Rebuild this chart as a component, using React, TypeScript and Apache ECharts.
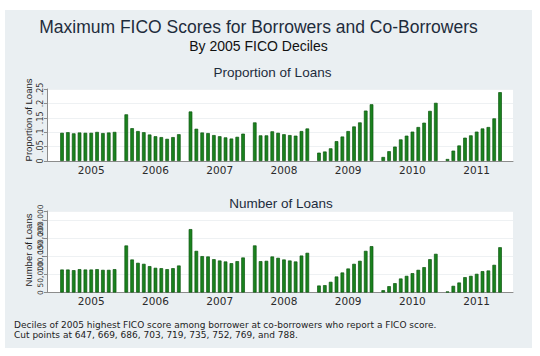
import React, { useEffect, useRef } from "react";
import * as echarts from "echarts";

const years = ["2005", "2006", "2007", "2008", "2009", "2010", "2011"];
const yTicksProp = [0, 0.05, 0.1, 0.15, 0.2, 0.25];
const yTicksCount = [0, 50000, 100000, 150000, 200000];

// Proportion of loans, deciles 1..10 per year
const prop2005 = [0.098, 0.1, 0.096, 0.099, 0.098, 0.098, 0.101, 0.097, 0.099, 0.101];
const prop2006 = [0.162, 0.114, 0.104, 0.1, 0.092, 0.086, 0.083, 0.077, 0.083, 0.093];
const prop2007 = [0.172, 0.112, 0.099, 0.097, 0.09, 0.086, 0.082, 0.078, 0.084, 0.095];
const prop2008 = [0.134, 0.089, 0.089, 0.103, 0.098, 0.093, 0.09, 0.088, 0.104, 0.113];
const prop2009 = [0.029, 0.033, 0.044, 0.069, 0.085, 0.104, 0.12, 0.134, 0.175, 0.197];
const prop2010 = [0.014, 0.034, 0.05, 0.075, 0.088, 0.102, 0.118, 0.133, 0.174, 0.202];
const prop2011 = [0.007, 0.036, 0.054, 0.081, 0.089, 0.102, 0.113, 0.118, 0.148, 0.239];

// Number of loans, deciles 1..10 per year
const count2005 = [63500, 63500, 61700, 64500, 63500, 63500, 64500, 62600, 62600, 64500];
const count2006 = [129900, 91200, 82000, 79200, 72800, 68200, 67200, 64500, 67200, 74600];
const count2007 = [175000, 115000, 100400, 99500, 92000, 88400, 85700, 81000, 86600, 96700];
const count2008 = [130000, 86600, 87500, 99500, 95800, 91200, 88400, 85700, 102000, 109600];
const count2009 = [19300, 20300, 29500, 44200, 55300, 66300, 79200, 87500, 115000, 128000];
const count2010 = [6400, 17500, 25800, 38700, 46000, 53400, 62600, 70000, 92000, 106800];
const count2011 = [2800, 18400, 27600, 42400, 46000, 51600, 59000, 60800, 76400, 125000];

const propGroups = [prop2005, prop2006, prop2007, prop2008, prop2009, prop2010, prop2011];
const countGroups = [count2005, count2006, count2007, count2008, count2009, count2010, count2011];

const footnote1 =
  "Deciles of 2005 highest FICO score among borrower at co-borrowers who report a FICO score.";
const footnote2 = "Cut points at 647, 669, 686, 703, 719, 735, 752, 769, and 788.";

// each year: 10 deciles followed by one empty slot
function slotted(groups: number[][]) {
  const out: (number | null)[] = [];
  groups.forEach((g) => {
    g.forEach((v) => out.push(v));
    out.push(null);
  });
  return out;
}
function slotNames(groups: number[][]) {
  const out: string[] = [];
  groups.forEach((g, gi) => {
    g.forEach((_, di) => out.push(years[gi] + "-" + (di + 1)));
    out.push(years[gi] + "-gap");
  });
  return out;
}

const SANS = "'Liberation Sans', Arial, Helvetica, sans-serif";
const WIDE = "'DejaVu Sans', sans-serif";
const AXIS = "#8c8c8c";
const GREEN = "#1a821e";
const GREEN_EDGE = "#0b560e";

export default function App() {
  const ref = useRef<HTMLDivElement>(null);
  useEffect(() => {
    if (!ref.current) return;
    const chart = echarts.init(ref.current, null, { renderer: "svg" });

    const propMax = yTicksProp[yTicksProp.length - 1];
    const countMax = 225000;
    const names = slotNames(propGroups);

    const bgX = (grid: number) => ({
      type: "value" as const,
      gridIndex: grid,
      min: 0,
      max: 1,
      axisLine: { show: true, lineStyle: { color: AXIS, width: 1 } },
      axisTick: { show: false },
      axisLabel: { show: false },
      splitLine: { show: false },
    });
    const slotX = (grid: number) => ({
      type: "category" as const,
      gridIndex: grid,
      data: names,
      show: false,
    });
    const yearX = (grid: number) => ({
      type: "category" as const,
      gridIndex: grid,
      data: years,
      position: "bottom" as const,
      axisLine: { show: false },
      axisTick: { show: false },
      axisLabel: {
        show: true,
        fontFamily: WIDE,
        fontSize: 10.5,
        color: "#2a2a2a",
        margin: 3,
        interval: 0,
      },
      splitLine: { show: false },
    });

    chart.setOption({
      animation: false,
      backgroundColor: "#ffffff",
      graphic: [
        {
          type: "rect",
          shape: { x: 5, y: 10, width: 527, height: 338 },
          style: { fill: "#eaeff2" },
          z: -10,
        },
        {
          type: "text",
          x: 258.5,
          y: 27,
          style: {
            text: "Maximum FICO Scores for Borrowers and Co-Borrowers",
            font: `17.5px ${SANS}`,
            fill: "#1e2c3c",
            textAlign: "center",
            textVerticalAlign: "middle",
          },
        },
        {
          type: "text",
          x: 258.5,
          y: 46,
          style: {
            text: "By 2005 FICO Deciles",
            font: `14px ${SANS}`,
            fill: "#111111",
            textAlign: "center",
            textVerticalAlign: "middle",
          },
        },
        {
          type: "text",
          x: 272.5,
          y: 72,
          style: {
            text: "Proportion of Loans",
            font: `13.5px ${SANS}`,
            fill: "#1e2c3c",
            textAlign: "center",
            textVerticalAlign: "middle",
          },
        },
        {
          type: "text",
          x: 281,
          y: 203,
          style: {
            text: "Number of Loans",
            font: `13.5px ${SANS}`,
            fill: "#1e2c3c",
            textAlign: "center",
            textVerticalAlign: "middle",
          },
        },
        {
          type: "text",
          x: 28,
          y: 120,
          rotation: Math.PI / 2,
          style: {
            text: "Proportion of Loans",
            font: `9.5px ${SANS}`,
            fill: "#222222",
            textAlign: "center",
            textVerticalAlign: "middle",
          },
        },
        {
          type: "text",
          x: 28,
          y: 250,
          rotation: Math.PI / 2,
          style: {
            text: "Number of Loans",
            font: `9.5px ${SANS}`,
            fill: "#222222",
            textAlign: "center",
            textVerticalAlign: "middle",
          },
        },
        {
          type: "text",
          x: 14,
          y: 325,
          style: {
            text: footnote1,
            font: `9px ${WIDE}`,
            fill: "#222222",
            textAlign: "left",
            textVerticalAlign: "middle",
          },
        },
        {
          type: "text",
          x: 14,
          y: 334.5,
          style: {
            text: footnote2,
            font: `9px ${WIDE}`,
            fill: "#222222",
            textAlign: "left",
            textVerticalAlign: "middle",
          },
        },
      ],
      grid: [
        { left: 47, top: 89, width: 466, height: 72, show: true, backgroundColor: "#ffffff", borderWidth: 0 },
        { left: 59.1, top: 89, width: 449.7, height: 72 },
        { left: 47, top: 211, width: 466, height: 81.5, show: true, backgroundColor: "#ffffff", borderWidth: 0 },
        { left: 59.1, top: 211, width: 449.7, height: 81.5 },
      ],
      xAxis: [bgX(0), slotX(1), yearX(1), bgX(2), slotX(3), yearX(3)],
      yAxis: [
        {
          type: "value",
          gridIndex: 0,
          min: yTicksProp[0],
          max: propMax,
          interval: yTicksProp[1] - yTicksProp[0],
          axisLine: { show: true, lineStyle: { color: AXIS } },
          axisTick: { show: true, length: 3, lineStyle: { color: AXIS } },
          axisLabel: {
            rotate: 90,
            fontFamily: WIDE,
            fontSize: 8,
            color: "#333333",
            margin: 3,
            formatter: (v: number) => {
              if (v === 0) return "0";
              return parseFloat(v.toFixed(2)).toString().replace(/^0\./, ".");
            },
          },
          splitLine: { show: true, lineStyle: { color: "#eef1f3", width: 1 } },
        },
        { type: "value", gridIndex: 1, min: 0, max: propMax, show: false },
        {
          type: "value",
          gridIndex: 2,
          min: yTicksCount[0],
          max: countMax,
          interval: yTicksCount[1] - yTicksCount[0],
          axisLine: { show: true, lineStyle: { color: AXIS } },
          axisTick: { show: true, length: 3, lineStyle: { color: AXIS } },
          axisLabel: {
            rotate: 90,
            fontFamily: WIDE,
            fontSize: 7.5,
            color: "#333333",
            margin: 3,
            formatter: (v: number) =>
              yTicksCount.indexOf(v) >= 0 ? v.toLocaleString("en-US") : "",
          },
          splitLine: { show: true, lineStyle: { color: "#eef1f3", width: 1 } },
        },
        { type: "value", gridIndex: 3, min: 0, max: countMax, show: false },
      ],
      series: [
        {
          type: "bar",
          xAxisIndex: 1,
          yAxisIndex: 1,
          data: slotted(propGroups),
          barWidth: "62%",
          itemStyle: { color: GREEN, borderColor: GREEN_EDGE, borderWidth: 0.7 },
        },
        {
          type: "bar",
          xAxisIndex: 4,
          yAxisIndex: 3,
          data: slotted(countGroups),
          barWidth: "62%",
          itemStyle: { color: GREEN, borderColor: GREEN_EDGE, borderWidth: 0.7 },
        },
      ],
    });
    return () => chart.dispose();
  }, []);

  return (
    <div
      ref={ref}
      style={{ position: "absolute", left: 0, top: 0, width: 540, height: 356 }}
    />
  );
}
